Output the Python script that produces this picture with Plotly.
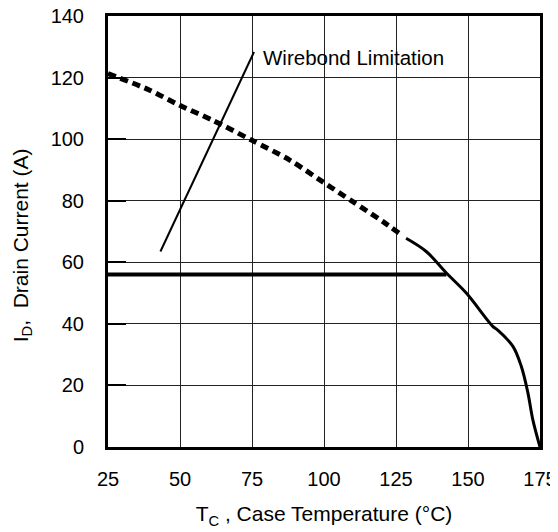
import plotly.graph_objects as go

# Data
dashed_t = [25, 39.5, 49.9, 61.4, 74.8, 88.1, 99.6, 110.0, 120.5, 126.0]
dashed_i = [121.3, 115.9, 111.0, 106.1, 99.7, 93.2, 86.1, 79.7, 73.2, 69.5]

solid_t = [128.5, 135.5, 142.5, 149.4, 158.6, 160.4, 165.6, 168.5, 170.8, 172.5, 175]
solid_i = [67.8, 63.5, 56.5, 50.0, 39.2, 37.9, 32.7, 26.2, 17.6, 8.9, 0]

limit_t = [25, 142.5]
limit_i = [56, 56]

wire_t = [43.2, 75.7]
wire_i = [63.5, 128.3]

x_ticks = [25, 50, 75, 100, 125, 150, 175]
y_ticks = [0, 20, 40, 60, 80, 100, 120, 140]

FONT = "Liberation Sans, Arial, Helvetica, sans-serif"

fig = go.Figure()
fig.add_trace(go.Scatter(x=dashed_t, y=dashed_i, mode="lines",
                         line=dict(color="black", width=5, dash="8px,5px", shape="spline", smoothing=0.8),
                         hoverinfo="skip", showlegend=False))
fig.add_trace(go.Scatter(x=solid_t, y=solid_i, mode="lines",
                         line=dict(color="black", width=3, shape="spline", smoothing=1.0),
                         hoverinfo="skip", showlegend=False))
fig.add_trace(go.Scatter(x=limit_t, y=limit_i, mode="lines",
                         line=dict(color="black", width=4),
                         hoverinfo="skip", showlegend=False))
fig.add_trace(go.Scatter(x=wire_t, y=wire_i, mode="lines",
                         line=dict(color="black", width=2),
                         hoverinfo="skip", showlegend=False))

fig.add_annotation(x=78.0, y=126.6, text="Wirebond Limitation", showarrow=False,
                   xanchor="left", yanchor="middle",
                   font=dict(family=FONT, size=20.5, color="black"))

# y-axis title as a rotated annotation (sits slightly below plot centre in the reference)
fig.add_annotation(xref="paper", yref="paper", x=-0.199, y=0.468,
                   text="I<sub>D</sub>,  Drain Current (A)", textangle=-90, showarrow=False,
                   xanchor="center", yanchor="middle",
                   font=dict(family=FONT, size=21, color="black"))

# page body adds an 8px offset, so the figure is 8px smaller than the window
fig.update_layout(
    width=550, height=524,
    margin=dict(l=100, r=17.5, t=7.5, b=84.5),
    paper_bgcolor="white", plot_bgcolor="white",
    font=dict(family=FONT, size=20, color="black"),
    showlegend=False,
)
fig.update_xaxes(range=[25, 175], tickvals=x_ticks, ticktext=[str(v) for v in x_ticks],
                 showgrid=True, gridcolor="#222222", gridwidth=1,
                 showline=True, mirror=True, linecolor="black", linewidth=3,
                 ticks="", ticklabelstandoff=12, ticklabeloverflow="allow",
                 zeroline=False, automargin=False,
                 title=dict(text="T<sub>C</sub> , Case Temperature (°C)", standoff=18,
                            font=dict(family=FONT, size=21)))
fig.update_yaxes(range=[0, 140], tickvals=y_ticks, ticktext=[str(v) for v in y_ticks],
                 showgrid=True, gridcolor="#222222", gridwidth=1,
                 showline=True, mirror=True, linecolor="black", linewidth=3,
                 ticks="inside", ticklen=18, tickwidth=2, tickcolor="black",
                 ticklabelstandoff=17, ticklabeloverflow="allow",
                 zeroline=False, automargin=False)

fig.write_html("out.html")
